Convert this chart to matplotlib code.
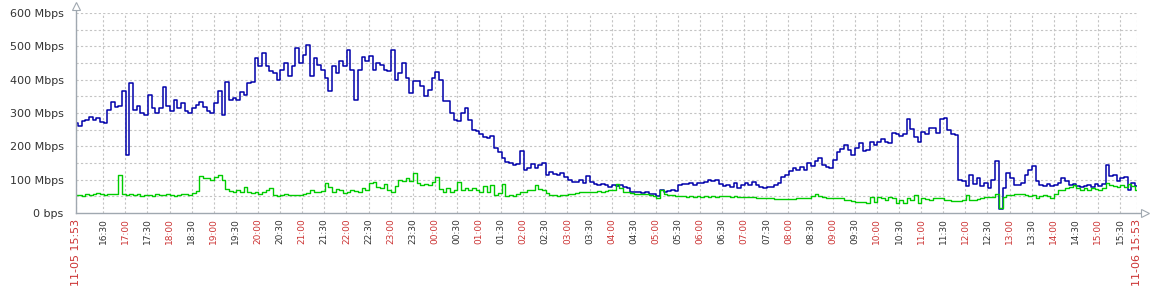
import matplotlib
matplotlib.use("Agg")
import matplotlib.pyplot as plt
import matplotlib.dates as mdates
from datetime import datetime, timedelta

# ---- data (Mbps), one sample every 5 minutes from 11-05 15:53 to 11-06 15:53 ----
start = datetime(2023, 11, 5, 15, 53)
step_min = 5

incoming = [
    # 15:53 - 16:48
    269, 262, 275, 280, 289, 278, 284, 272, 270, 309, 334, 319,
    # 16:53 - 17:48
    320, 365, 175, 390, 310, 320, 300, 295, 354, 314, 300, 315,
    # 17:53 - 18:48
    379, 320, 305, 340, 315, 330, 305, 300, 315, 325, 334, 319,
    # 18:53 - 19:48
    305, 300, 330, 365, 294, 394, 340, 345, 339, 364, 355, 389,
    # 19:53 - 20:48
    394, 465, 440, 479, 440, 425, 419, 400, 430, 449, 410, 440,
    # 20:53 - 21:48
    494, 450, 474, 505, 410, 464, 445, 430, 405, 365, 440, 420,
    # 21:53 - 22:48
    455, 440, 489, 430, 339, 430, 469, 455, 470, 430, 450, 445,
    # 22:53 - 23:48
    430, 425, 489, 400, 420, 449, 405, 359, 395, 395, 380, 350,
    # 23:53 - 00:48
    370, 405, 424, 400, 335, 335, 300, 279, 275, 300, 315, 280,
    # 00:53 - 01:48
    250, 245, 238, 228, 224, 230, 195, 184, 164, 154, 150, 144,
    # 01:53 - 02:48
    148, 185, 130, 135, 148, 135, 144, 149, 115, 124, 118, 115,
    # 02:53 - 03:48
    119, 108, 100, 92, 94, 98, 90, 112, 92, 86, 84, 88,
    # 03:53 - 04:48
    84, 79, 84, 80, 84, 78, 74, 64, 64, 63, 59, 63,
    # 04:53 - 05:48
    58, 57, 50, 69, 64, 66, 69, 66, 84, 86, 88, 90,
    # 05:53 - 06:48
    84, 89, 90, 94, 98, 95, 99, 88, 80, 84, 79, 89,
    # 06:53 - 07:48
    74, 84, 89, 84, 94, 84, 79, 74, 79, 79, 84, 89,
    # 07:53 - 08:48
    109, 115, 125, 135, 130, 139, 130, 149, 140, 156, 166, 145,
    # 08:53 - 09:48
    139, 135, 160, 184, 192, 204, 190, 174, 195, 209, 186, 190,
    # 09:53 - 10:48
    214, 205, 212, 222, 214, 209, 240, 238, 230, 236, 282, 252,
    # 10:53 - 11:48
    228, 214, 242, 238, 254, 254, 240, 282, 285, 250, 238, 235,
    # 11:53 - 12:48
    99, 95, 80, 115, 88, 104, 80, 90, 75, 100, 155, 12,
    # 12:53 - 13:48
    75, 120, 105, 85, 84, 90, 115, 130, 140, 95, 85, 80,
    # 13:53 - 14:48
    88, 80, 84, 90, 106, 95, 85, 88, 80, 78, 80, 84,
    # 14:53 - 15:48
    78, 86, 80, 88, 144, 110, 114, 95, 105, 108, 70, 90,
    # 15:53
    80,
]

outgoing = [
    # 15:53 - 16:48
    54, 55, 52, 57, 55, 58, 60, 56, 55, 58, 56, 58,
    # 16:53 - 17:48
    115, 57, 55, 58, 53, 56, 52, 54, 55, 50, 56, 55,
    # 17:53 - 18:48
    53, 56, 54, 52, 55, 58, 56, 53, 60, 66, 112, 104,
    # 18:53 - 19:48
    104, 100, 109, 114, 100, 72, 66, 64, 68, 64, 79, 62,
    # 19:53 - 20:48
    60, 64, 58, 64, 68, 74, 55, 50, 54, 58, 54, 54,
    # 20:53 - 21:48
    55, 54, 58, 60, 69, 64, 64, 66, 89, 78, 64, 72,
    # 21:53 - 22:48
    68, 60, 64, 70, 66, 64, 74, 70, 89, 94, 78, 74,
    # 22:53 - 23:48
    88, 69, 64, 80, 100, 95, 104, 96, 119, 89, 84, 88,
    # 23:53 - 00:48
    84, 92, 109, 72, 64, 74, 64, 70, 94, 68, 74, 68,
    # 00:53 - 01:48
    74, 68, 64, 80, 64, 84, 55, 60, 86, 50, 54, 50,
    # 01:53 - 02:48
    58, 62, 64, 68, 70, 84, 72, 70, 60, 55, 54, 50,
    # 02:53 - 03:48
    54, 55, 58, 58, 60, 62, 64, 62, 64, 64, 66, 64,
    # 03:53 - 04:48
    66, 68, 70, 88, 74, 64, 64, 60, 58, 58, 58, 56,
    # 04:53 - 05:48
    54, 50, 45, 68, 58, 54, 54, 50, 50, 50, 49, 50,
    # 05:53 - 06:48
    49, 50, 49, 50, 49, 50, 49, 52, 51, 50, 49, 50,
    # 06:53 - 07:48
    48, 49, 47, 48, 49, 45, 46, 44, 44, 45, 43, 42,
    # 07:53 - 08:48
    41, 41, 41, 43, 44, 44, 45, 46, 50, 57, 52, 47,
    # 08:53 - 09:48
    45, 44, 46, 45, 44, 40, 39, 36, 34, 32, 32, 29,
    # 09:53 - 10:48
    49, 34, 49, 44, 40, 49, 44, 30, 38, 30, 44, 40,
    # 10:53 - 11:48
    54, 30, 44, 42, 39, 44, 44, 44, 39, 38, 37, 37,
    # 11:53 - 12:48
    37, 40, 54, 40, 39, 42, 45, 48, 47, 49, 58, 15,
    # 12:53 - 13:48
    49, 54, 55, 56, 56, 56, 55, 52, 54, 46, 50, 55,
    # 13:53 - 14:48
    50, 46, 56, 68, 70, 74, 79, 84, 74, 70, 74, 70,
    # 14:53 - 15:48
    74, 72, 70, 74, 89, 84, 80, 79, 84, 79, 86, 82,
    # 15:53
    70,
]

half_hour_labels = [
    "16:30", "17:00", "17:30", "18:00", "18:30", "19:00", "19:30", "20:00",
    "20:30", "21:00", "21:30", "22:00", "22:30", "23:00", "23:30", "00:00",
    "00:30", "01:00", "01:30", "02:00", "02:30", "03:00", "03:30", "04:00",
    "04:30", "05:00", "05:30", "06:00", "06:30", "07:00", "07:30", "08:00",
    "08:30", "09:00", "09:30", "10:00", "10:30", "11:00", "11:30", "12:00",
    "12:30", "13:00", "13:30", "14:00", "14:30", "15:00", "15:30",
]
start_label = "11-05 15:53"
end_label = "11-06 15:53"

y_ticks = [0, 100, 200, 300, 400, 500, 600]
y_tick_labels = ["0 bps", "100 Mbps", "200 Mbps", "300 Mbps", "400 Mbps", "500 Mbps", "600 Mbps"]

# ---- build time axis ----
times = [start + timedelta(minutes=step_min * i) for i in range(len(incoming))]
end = start + timedelta(hours=24)

tick_times = [start]
day = start.date()
prev = start
for lab in half_hour_labels:
    hh, mm = map(int, lab.split(":"))
    t = datetime(day.year, day.month, day.day, hh, mm)
    if t < prev:
        t += timedelta(days=1)
        day = t.date()
    tick_times.append(t)
    prev = t
tick_times.append(end)
tick_labels = [start_label] + half_hour_labels + [end_label]

# ---- figure ----
W, H = 1153, 296
fig = plt.figure(figsize=(W / 100, H / 100), dpi=100)
x0, x1, y0, y1 = 76, 1137, 213, 13
ax = fig.add_axes([x0 / W, 1 - y0 / H, (x1 - x0) / W, (y0 - y1) / H])

ax.plot(times, incoming, color="#0000AA", lw=1.1, drawstyle="steps-mid", zorder=3)
ax.plot(times, outgoing, color="#00CC00", lw=1.0, drawstyle="steps-mid", zorder=3)

ax.set_xlim(start, end)
ax.set_ylim(0, 600)

# grid
grid_kw = dict(color="#c4c4c4", lw=0.8, ls=(0, (2, 2)), zorder=1)
for v in range(50, 601, 50):
    ax.axhline(v, **grid_kw)
for t in tick_times:
    ax.axvline(t, **grid_kw)

ax.set_yticks(y_ticks)
ax.set_yticklabels(y_tick_labels, fontsize=8, color="#333333")
ax.tick_params(axis="y", length=0, pad=9)

ax.set_xticks([mdates.date2num(t) for t in tick_times])
ax.set_xticklabels(tick_labels, rotation=90, fontsize=6.5, va="top", ha="center")
ax.tick_params(axis="x", length=0, pad=4)
for lab, txt in zip(ax.get_xticklabels(), tick_labels):
    if txt.endswith(":00") or "-" in txt:
        lab.set_color("#CC3333")
    else:
        lab.set_color("#333333")
    if "-" in txt:
        lab.set_fontsize(8)

for s in ["top", "right", "left", "bottom"]:
    ax.spines[s].set_visible(False)

axis_col = "#a0a8b0"
ax.plot([0, 0], [0, 1.03], transform=ax.transAxes, color=axis_col, lw=1.0, clip_on=False, zorder=4)
ax.plot([0, 1.006], [0, 0], transform=ax.transAxes, color=axis_col, lw=1.0, clip_on=False, zorder=4)
ax.plot([0], [1.035], transform=ax.transAxes, marker="^", ms=6, mfc="white", mec=axis_col,
        mew=0.8, clip_on=False, zorder=5)
ax.plot([1.008], [0], transform=ax.transAxes, marker=">", ms=6, mfc="white", mec=axis_col,
        mew=0.8, clip_on=False, zorder=5)

fig.savefig("out.png", dpi=100, facecolor="white")
